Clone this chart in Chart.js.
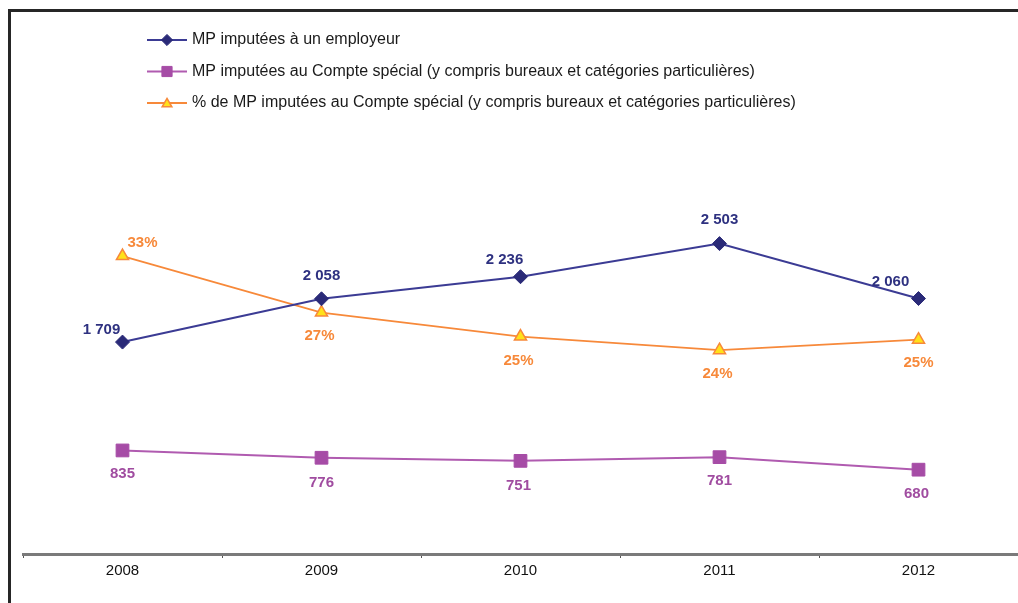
<!DOCTYPE html>
<html>
<head>
<meta charset="utf-8">
<script src="https://cdn.jsdelivr.net/npm/chart.js@4.4.0/dist/chart.umd.min.js"></script>
<style>
  html, body { margin: 0; padding: 0; background: #fff; }
  #wrap { position: relative; width: 1018px; height: 603px; }
  #frame { position: absolute; left: 8px; top: 9px; right: 0; bottom: 0;
           border-top: 3px solid #262626; border-left: 3px solid #262626; }
  canvas { position: absolute; left: 0; top: 0; }
</style>
</head>
<body>
<div id="wrap">
  <div id="frame"></div>
  <canvas id="myChart" width="1018" height="603"></canvas>
</div>
<script>
const years = ["2008", "2009", "2010", "2011", "2012"];
const employeur = [1709, 2058, 2236, 2503, 2060];
const compteSpecial = [835, 776, 751, 781, 680];
const pctCompteSpecial = [32.8, 27.4, 25.1, 23.8, 24.8];

const seriesNames = [
  "MP imputées à un employeur",
  "MP imputées au Compte spécial (y compris bureaux et catégories particulières)",
  "% de MP imputées au Compte spécial (y compris bureaux et catégories particulières)"
];

// where each value label sits relative to its point (dx, dy)
const labelOffsets = [
  [[-21, -12], [0, -23], [-16, -17], [0, -24], [-28, -17]],
  [[0, 23], [0, 25], [-2, 25], [0, 24], [-2, 24]],
  [[20, -13], [-2, 23], [-2, 24], [-2, 24], [0, 23]]
];

function fmtNumber(v) {
  return String(v).replace(/\B(?=(\d{3})+(?!\d))/g, " ");
}
const labelFormats = [
  v => fmtNumber(v),
  v => fmtNumber(v),
  v => Math.round(v) + "%"
];

const valueLabels = {
  id: "valueLabels",
  afterDatasetsDraw(chart) {
    const ctx = chart.ctx;
    ctx.save();
    ctx.font = "bold 15px 'Liberation Sans', Arial, sans-serif";
    ctx.textAlign = "center";
    ctx.textBaseline = "middle";
    chart.data.datasets.forEach((ds, i) => {
      const meta = chart.getDatasetMeta(i);
      ctx.fillStyle = ds.labelColor;
      meta.data.forEach((pt, j) => {
        const off = labelOffsets[i][j];
        ctx.fillText(labelFormats[i](ds.data[j]), pt.x + off[0], pt.y + off[1]);
      });
    });
    ctx.restore();
  }
};

// stacked legend in one column, top left
const columnLegend = {
  id: "columnLegend",
  afterDraw(chart) {
    const ctx = chart.ctx;
    ctx.save();
    ctx.font = "16px 'Liberation Sans', Arial, sans-serif";
    ctx.textBaseline = "middle";
    chart.data.datasets.forEach((ds, i) => {
      const y = 40 + i * 31.5;
      ctx.strokeStyle = ds.borderColor;
      ctx.lineWidth = 2;
      ctx.beginPath();
      ctx.moveTo(147, y);
      ctx.lineTo(187, y);
      ctx.stroke();
      ctx.fillStyle = ds.pointBackgroundColor;
      ctx.strokeStyle = ds.pointBorderColor;
      ctx.lineWidth = ds.pointBorderWidth;
      Chart.helpers.drawPoint(ctx, {
        pointStyle: ds.pointStyle,
        radius: ds.pointRadius * 0.8,
        borderWidth: ds.pointBorderWidth
      }, 167, y + (ds.pointStyle === "triangle" ? 1 : 0));
      ctx.fillStyle = "#1a1a1a";
      ctx.fillText(ds.label, 192, y);
    });
    ctx.restore();
  }
};

const ctx = document.getElementById("myChart").getContext("2d");

const myChart = new Chart(ctx, {
  type: "line",
  data: {
    labels: years,
    datasets: [
      {
        label: seriesNames[0],
        data: employeur,
        yAxisID: "y",
        borderColor: "#3b3b94",
        borderWidth: 2,
        pointStyle: "rectRot",
        pointRadius: 7,
        pointBackgroundColor: "#2a2a78",
        pointBorderColor: "#2a2a78",
        pointBorderWidth: 1,
        labelColor: "#2e3180"
      },
      {
        label: seriesNames[1],
        data: compteSpecial,
        yAxisID: "y",
        borderColor: "#b05bb0",
        borderWidth: 2,
        pointStyle: "rect",
        pointRadius: 9,
        pointBackgroundColor: "#a64ca6",
        pointBorderColor: "#a64ca6",
        pointBorderWidth: 1,
        labelColor: "#a04ca0"
      },
      {
        label: seriesNames[2],
        data: pctCompteSpecial,
        yAxisID: "y2",
        borderColor: "#f7893a",
        borderWidth: 1.8,
        pointStyle: "triangle",
        pointRadius: 7,
        pointBackgroundColor: "#ffe11a",
        pointBorderColor: "#f7893a",
        pointBorderWidth: 1.5,
        labelColor: "#f7893a"
      }
    ]
  },
  options: {
    responsive: false,
    animation: false,
    layout: {
      autoPadding: false,
      padding: { top: 115, left: 23, right: 0, bottom: 19 }
    },
    plugins: {
      legend: { display: false },
      tooltip: { enabled: false }
    },
    scales: {
      x: {
        offset: true,
        afterFit(scale) {
          scale.paddingLeft = 0;
          scale.paddingRight = 0;
        },
        grid: {
          offset: true,
          drawOnChartArea: false,
          drawTicks: true,
          tickLength: 4,
          color: "#555",
          lineWidth: 1
        },
        border: { display: true, color: "#7a7a7a", width: 3 },
        ticks: {
          color: "#111",
          padding: 4,
          font: { family: "'Liberation Sans', Arial, sans-serif", size: 15 }
        }
      },
      y: {
        display: false,
        min: 0,
        max: 3540
      },
      y2: {
        display: false,
        min: 4.3,
        max: 46.3
      }
    }
  },
  plugins: [valueLabels, columnLegend]
});
</script>
</body>
</html>
